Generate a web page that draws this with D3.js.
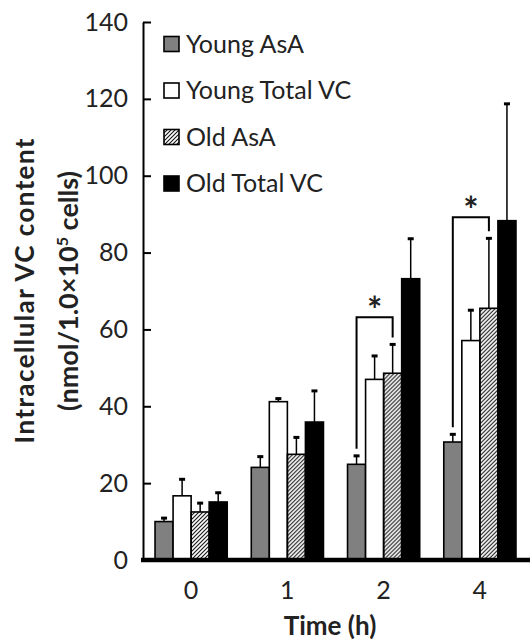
<!DOCTYPE html>
<html>
<head>
<meta charset="utf-8">
<script src="https://cdn.jsdelivr.net/npm/d3@7"></script>
<style>
    body { margin: 0; background: #fff; }
    svg text { font-family: Lato, "Noto Sans", sans-serif; fill: #222; }
</style>
</head>
<body>
<svg id="chart" width="530" height="644"></svg>
<script>
"use strict";

// time points (h)
const times = ["0", "1", "2", "4"];
const seriesNames = ["Young AsA", "Young Total VC", "Old AsA", "Old Total VC"];

// means, nmol / 1.0x10^5 cells
const youngAsA   = [10.0, 24.1, 24.9, 30.7];
const youngTotal = [16.7, 41.2, 47.0, 57.1];
const oldAsA     = [12.5, 27.5, 48.6, 65.5];
const oldTotal   = [15.1, 35.9, 73.2, 88.3];

// SD (upper error bars only)
const youngAsAErr   = [0.9, 2.8, 2.2, 2.0];
const youngTotalErr = [4.3, 0.8, 6.1, 7.9];
const oldAsAErr     = [2.3, 4.4, 7.5, 18.2];
const oldTotalErr   = [2.4, 8.1, 10.4, 30.4];

const yTicks = [0, 20, 40, 60, 80, 100, 120, 140];

// significance: Young AsA vs Old AsA at the given time, bracket top value
const sigTimes = ["2", "4"];
const sigTops  = [63.2, 89.2];

const values = [youngAsA, youngTotal, oldAsA, oldTotal];
const errors = [youngAsAErr, youngTotalErr, oldAsAErr, oldTotalErr];

const svg = d3.select("#chart");

// hatch for Old AsA
const defs = svg.append("defs");
defs.append("pattern")
    .attr("id", "hatch")
    .attr("patternUnits", "userSpaceOnUse")
    .attr("width", 4)
    .attr("height", 4)
    .append("path")
    .attr("d", "M-1,1 l2,-2 M0,4 l4,-4 M3,5 l2,-2")
    .attr("stroke", "#111")
    .attr("stroke-width", 1.1);

const fills = ["#808080", "#fff", "url(#hatch)", "#000"];

const x0 = d3.scaleBand().domain(times).range([143, 528])
    .paddingInner(0.25).paddingOuter(0.125);
const x1 = d3.scaleBand().domain(d3.range(seriesNames.length))
    .range([0, x0.bandwidth()]);
const y = d3.scaleLinear().domain([0, 140]).range([560, 22]);

// y axis, ticks pointing inward
const yAxis = svg.append("g")
    .attr("transform", "translate(143,0)")
    .call(d3.axisLeft(y).tickValues(yTicks).tickSize(-8).tickSizeOuter(0).tickPadding(15));
yAxis.select(".domain").attr("stroke-width", 2);
yAxis.selectAll(".tick line").attr("stroke-width", 2);
yAxis.selectAll(".tick text")
    .attr("font-size", 25)
    .attr("font-family", "Lato")
    .attr("fill", "#333");

// bars
const groups = svg.append("g").selectAll("g")
    .data(times)
    .join("g")
    .attr("transform", d => `translate(${x0(d)},0)`);

const cells = (t, ti) => values.map((v, si) => ({si, v: v[ti], e: errors[si][ti]}));

groups.selectAll("rect")
    .data(cells)
    .join("rect")
    .attr("x", d => x1(d.si))
    .attr("y", d => y(d.v))
    .attr("width", x1.bandwidth())
    .attr("height", d => y(0) - y(d.v))
    .attr("fill", d => fills[d.si])
    .attr("stroke", "#000")
    .attr("stroke-width", 1.6);

// error bars
const eb = groups.selectAll("g.err")
    .data(cells)
    .join("g")
    .attr("class", "err");
eb.append("line")
    .attr("x1", d => x1(d.si) + x1.bandwidth() / 2)
    .attr("x2", d => x1(d.si) + x1.bandwidth() / 2)
    .attr("y1", d => y(d.v))
    .attr("y2", d => y(d.v + d.e))
    .attr("stroke", "#000")
    .attr("stroke-width", 1.5);
eb.append("line")
    .attr("x1", d => x1(d.si) + x1.bandwidth() / 2 - 3)
    .attr("x2", d => x1(d.si) + x1.bandwidth() / 2 + 3)
    .attr("y1", d => y(d.v + d.e))
    .attr("y2", d => y(d.v + d.e))
    .attr("stroke", "#000")
    .attr("stroke-width", 3);

// x axis (thick baseline, no ticks)
svg.append("line")
    .attr("x1", 141).attr("x2", 530)
    .attr("y1", y(0)).attr("y2", y(0))
    .attr("stroke", "#000")
    .attr("stroke-width", 4.5);

svg.append("g").selectAll("text")
    .data(times)
    .join("text")
    .attr("x", d => x0(d) + x0.bandwidth() / 2)
    .attr("y", 599)
    .attr("text-anchor", "middle")
    .attr("font-size", 25)
    .attr("fill", "#333")
    .text(d => d);

// significance brackets
sigTimes.forEach((t, i) => {
    const ti = times.indexOf(t);
    const xl = x0(t) + x1(0) + x1.bandwidth() / 2;
    const xr = x0(t) + x1(2) + x1.bandwidth() / 2;
    const yt = y(sigTops[i]);
    const yl = y(youngAsA[ti] + youngAsAErr[ti]) - 7;
    const yr = y(oldAsA[ti] + oldAsAErr[ti]) - 7;
    svg.append("path")
        .attr("d", `M${xl},${yl}V${yt}H${xr}V${yr}`)
        .attr("fill", "none")
        .attr("stroke", "#000")
        .attr("stroke-width", 2);
    svg.append("text")
        .attr("x", (xl + xr) / 2)
        .attr("y", yt + 6)
        .attr("text-anchor", "middle")
        .attr("font-size", 36)
        .attr("font-weight", "bold")
        .attr("font-family", "DejaVu Sans")
        .attr("fill", "#000")
        .text("*");
});

// legend
const legend = svg.append("g").selectAll("g")
    .data(seriesNames)
    .join("g")
    .attr("transform", (d, i) => `translate(164,${44 + i * 46.5})`);
legend.append("rect")
    .attr("x", 0).attr("y", -7.5)
    .attr("width", 15).attr("height", 15)
    .attr("fill", (d, i) => fills[i])
    .attr("stroke", "#000")
    .attr("stroke-width", 1.6);
legend.append("text")
    .attr("x", 22)
    .attr("y", 8.5)
    .attr("font-size", 25)
    .attr("fill", "#333")
    .text(d => d);

// axis titles
const yTitle = svg.append("text")
    .attr("transform", `translate(34,${(y(0) + y(140)) / 2}) rotate(-90)`)
    .attr("text-anchor", "middle")
    .attr("font-size", 26)
    .attr("font-weight", "bold")
    .attr("fill", "#000");
yTitle.append("tspan").attr("x", 0).attr("y", 0)
    .attr("textLength", 305).attr("lengthAdjust", "spacing")
    .text("Intracellular VC content");
const t2 = yTitle.append("tspan").attr("x", 0).attr("y", 44)
    .attr("font-size", 27).text("(nmol/1.0\u00d710");
t2.append("tspan").attr("font-size", 16).attr("dy", -10).text("5");
yTitle.append("tspan").attr("dy", 10).attr("font-size", 27).text(" cells)");

svg.append("text")
    .attr("x", 330)
    .attr("y", 635)
    .attr("text-anchor", "middle")
    .attr("font-size", 26)
    .attr("font-weight", "bold")
    .attr("fill", "#000")
    .text("Time (h)");
</script>
</body>
</html>
